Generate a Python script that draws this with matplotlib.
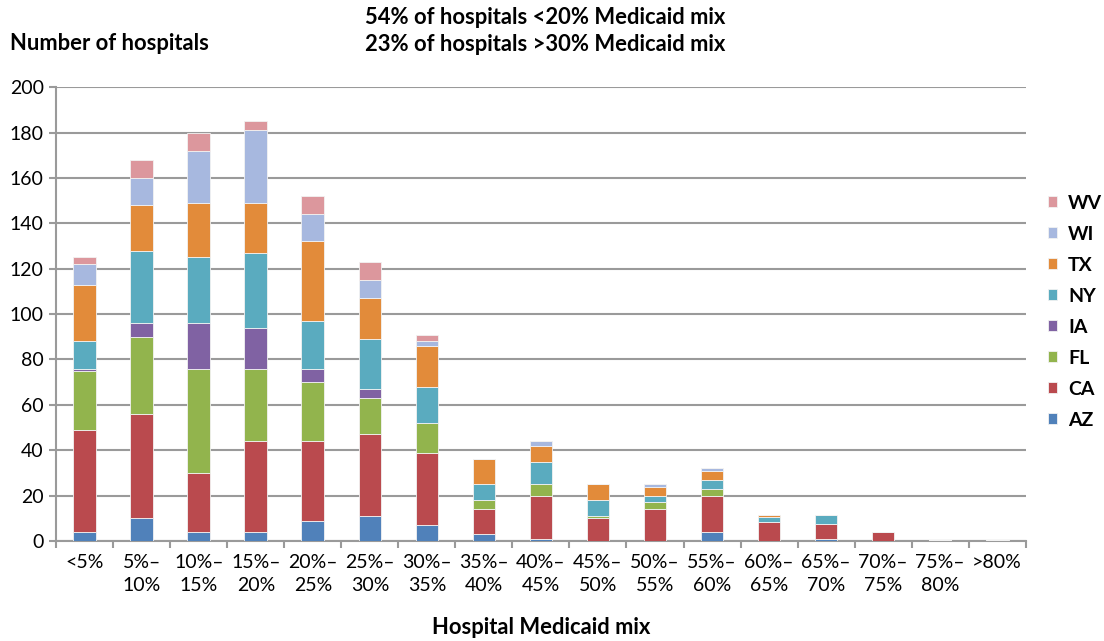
import numpy as np
import matplotlib.pyplot as plt
from matplotlib.ticker import MultipleLocator

plt.rcParams['font.family'] = ['Lato', 'DejaVu Sans']

# Hospital Medicaid mix bins
categories = ['<5%', '5%–\n10%', '10%–\n15%', '15%–\n20%', '20%–\n25%', '25%–\n30%',
              '30%–\n35%', '35%–\n40%', '40%–\n45%', '45%–\n50%', '50%–\n55%',
              '55%–\n60%', '60%–\n65%', '65%–\n70%', '70%–\n75%', '75%–\n80%', '>80%']

# number of hospitals per state in each bin
az = [4, 10, 4, 4, 9, 11, 7, 3, 1, 0, 0, 4, 0, 0.7, 0, 0, 0]
ca = [45, 46, 26, 40, 35, 36, 32, 11, 19, 10, 14, 16, 8.3, 6.6, 4, 0.6, 0]
fl = [26, 34, 46, 32, 26, 16, 13, 4, 5, 1, 3, 3, 0, 0, 0, 0, 0]
ia = [1, 6, 20, 18, 6, 4, 0, 0, 0, 0, 0, 0, 0, 0, 0, 0, 0]
ny = [12, 32, 29, 33, 21, 22, 16, 7, 10, 7, 3, 4, 2.2, 4.2, 0, 0, 0.6]
tx = [25, 20, 24, 22, 35, 18, 18, 11, 7, 7, 4, 4, 1, 0, 0, 0, 0]
wi = [9, 12, 23, 32, 12, 8, 2, 0, 2, 0, 1, 1, 0, 0, 0, 0, 0]
wv = [3, 8, 8, 4, 8, 8, 3, 0, 0, 0, 0, 0, 0, 0, 0, 0, 0]

states = ['AZ', 'CA', 'FL', 'IA', 'NY', 'TX', 'WI', 'WV']
series = [az, ca, fl, ia, ny, tx, wi, wv]
colors = ['#5081BA', '#BA4A4E', '#92B44D', '#8062A3', '#5AABBF', '#E28B3A', '#A7B8DF', '#DC979D']

grey = '#9a9a9a'

fig = plt.figure(figsize=(11.04, 6.41), dpi=100)
ax = fig.add_axes([0.051, 0.156, 0.878, 0.708])

x = np.arange(len(categories))
bottom = np.zeros(len(categories))
handles = []
for name, vals, col in zip(states, series, colors):
    vals = np.array(vals, dtype=float)
    b = ax.bar(x, vals, 0.4, bottom=bottom, color=col, edgecolor='#f2f2f2',
               linewidth=0.6, label=name, zorder=3)
    handles.append(b)
    bottom += vals

ax.set_xlim(-0.5, len(categories) - 0.5)
ax.set_ylim(0, 200)
ax.yaxis.set_major_locator(MultipleLocator(20))
ax.grid(axis='y', color=grey, linewidth=1.5, zorder=0)

ax.set_xticks(x)
ax.set_xticklabels(categories, fontsize=14, linespacing=1.45)
ax.set_xticks(np.arange(-0.5, len(categories)), minor=True)
ax.tick_params(axis='x', which='major', length=0, pad=9)
ax.tick_params(axis='x', which='minor', length=5, width=1.5, color=grey, direction='out')
ax.tick_params(axis='y', length=5, width=1.5, color=grey, labelsize=14, pad=4)

for s in ['top', 'right']:
    ax.spines[s].set_visible(False)
for s in ['left', 'bottom']:
    ax.spines[s].set_color(grey)
    ax.spines[s].set_linewidth(1.5)

ax.set_xlabel('Hospital Medicaid mix', fontsize=15.8, fontweight='bold', labelpad=17)

fig.text(0.009, 0.932, 'Number of hospitals', fontsize=15.8, fontweight='bold', va='center')
fig.text(0.331, 0.973, '54% of hospitals <20% Medicaid mix', fontsize=15.8,
         fontweight='bold', va='center')
fig.text(0.331, 0.931, '23% of hospitals >30% Medicaid mix', fontsize=15.8,
         fontweight='bold', va='center')

leg = fig.legend(handles[::-1], states[::-1], loc='center left',
                 bbox_to_anchor=(0.949, 0.514), frameon=False,
                 prop={'weight': 'bold', 'size': 14},
                 handlelength=0.5, handleheight=0.5, handletextpad=0.55,
                 labelspacing=0.72, borderpad=0, borderaxespad=0)

fig.savefig('out.png', dpi=100)
